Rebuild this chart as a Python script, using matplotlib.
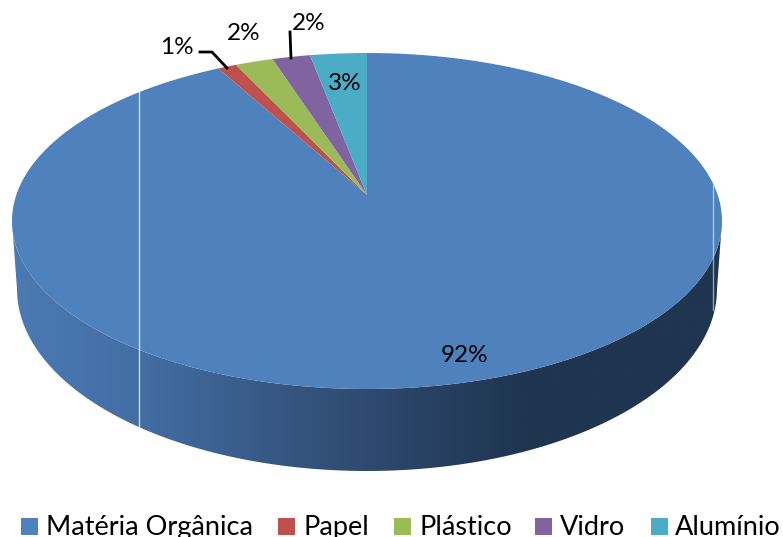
import numpy as np
import matplotlib
matplotlib.use("Agg")
import matplotlib.pyplot as plt
from matplotlib.colors import LinearSegmentedColormap
from matplotlib.patches import Polygon, Rectangle

categories = ["Matéria Orgânica", "Papel", "Plástico", "Vidro", "Alumínio"]
values = [92, 1, 2, 2, 3]
colors = ["#4F81BD", "#C0504D", "#9BBB59", "#8064A2", "#4BACC6"]

# label centres in pixels, same order as categories
label_pos = [(465, 355), (177, 47), (244, 33), (309, 24), (345, 84)]
legend_box_x = [21, 278, 394, 535, 651]
legend_text_x = [46, 303, 419, 560, 675]

# top ellipse, bottom ellipse, pie centre as seen in perspective
CX, CY, A, B = 367, 221, 355, 168
BOT_CY, BOT_A, BOT_B = 289, 350, 182
APEX_Y = 195

plt.rcParams["font.family"] = ["Lato", "DejaVu Sans"]


def pie_point(theta):
    """Point of the tilted disc, theta clockwise from the top."""
    c = (CY - APEX_Y) / B
    w = 1 + c * np.cos(theta)
    x = CX + A * np.sqrt(1 - c**2) * np.sin(theta) / w
    y = CY - B * (np.cos(theta) + c) / w
    return x, y


fig = plt.figure(figsize=(7.83, 5.37), dpi=100)
ax = fig.add_axes([0, 0, 1, 1])
ax.set_xlim(0, 783)
ax.set_ylim(537, 0)
ax.axis("off")

# side wall with horizontal shading
t = np.linspace(np.pi, 0, 200)
top_lower = np.column_stack([CX + A * np.cos(t), CY + B * np.sin(t)])
bot_lower = np.column_stack([CX + BOT_A * np.cos(t), BOT_CY + BOT_B * np.sin(t)])
wall = Polygon(np.vstack([top_lower, bot_lower[::-1]]), closed=True,
               facecolor="none", edgecolor="none")
ax.add_patch(wall)
shade = LinearSegmentedColormap.from_list(
    "shade",
    [(0.0, "#4B79B1"), (0.18, "#436EA4"), (0.32, "#3A5D8B"),
     (0.5, "#2E4A70"), (0.72, "#1F3550"), (1.0, "#1F3550")],
)
img = ax.imshow(np.linspace(0, 1, 400).reshape(1, -1), cmap=shade, aspect="auto",
                extent=(12, 722, 480, 200), zorder=1)
img.set_clip_path(wall)
ax.set_xlim(0, 783)
ax.set_ylim(537, 0)

# top face
edges = np.cumsum([0] + values) / sum(values) * 2 * np.pi
for start, end, color in zip(edges[:-1], edges[1:], colors):
    theta = np.linspace(start, end, 300)
    xs, ys = pie_point(theta)
    pts = np.vstack([[CX, APEX_Y], np.column_stack([xs, ys])])
    ax.add_patch(Polygon(pts, closed=True, facecolor=color, edgecolor="none", zorder=2))

# thin light seams left by the renderer
ax.plot([139, 139], [92, 427], color="#FFFFFF", lw=1, alpha=0.75, zorder=3)
ax.plot([712.5, 712.5], [185, 310], color="#FFFFFF", lw=1, alpha=0.55, zorder=3)

# leader lines
ax.plot([200, 212, 227], [52, 52, 68], color="black", lw=2, zorder=4)
ax.plot([290, 291], [32, 58], color="black", lw=2, zorder=4)

for val, (x, y) in zip(values, label_pos):
    ax.text(x, y, f"{val:.0f}%", fontsize=17.5, ha="center", va="center",
            color="black", zorder=5)

# legend, bottom of text runs off the canvas as in the original
for name, color, bx, tx in zip(categories, colors, legend_box_x, legend_text_x):
    ax.add_patch(Rectangle((bx, 518), 17, 17, facecolor=color, edgecolor="none", zorder=5))
    ax.text(tx, 535, name, fontsize=19.5, ha="left", va="baseline", color="black",
            zorder=5, clip_on=False)

fig.savefig("out.png", dpi=100)
